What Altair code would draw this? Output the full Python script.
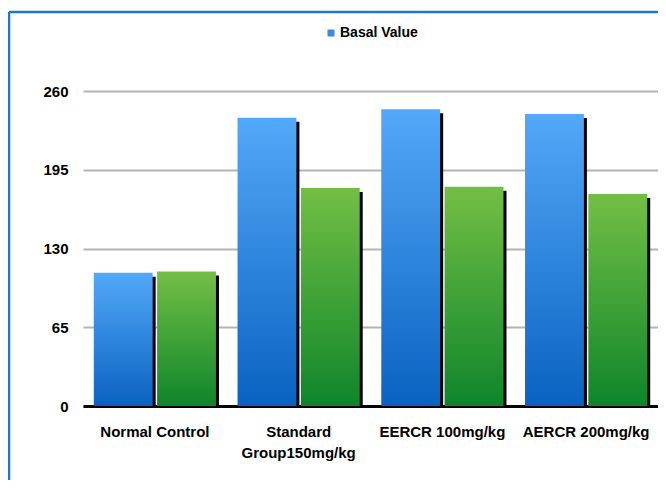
import altair as alt
import pandas as pd

categories = ["Normal Control", "Standard Group150mg/kg", "EERCR 100mg/kg", "AERCR 200mg/kg"]
series_names = ["Basal Value", "Series 2"]
basal_values = [110, 238, 245, 241]
second_values = [111, 180, 181, 175]
y_ticks = [0, 65, 130, 195, 260]
legend_label = ["Basal Value"]

rows = []
for c, v in zip(categories, basal_values):
    rows.append({"category": c, "series": series_names[0], "value": v})
for c, v in zip(categories, second_values):
    rows.append({"category": c, "series": series_names[1], "value": v})
df = pd.DataFrame(rows)

blue_grad = alt.LinearGradient(
    gradient="linear", x1=0, x2=0, y1=0, y2=1,
    stops=[alt.GradientStop(color="#52A9F9", offset=0),
           alt.GradientStop(color="#0A62C0", offset=1)])
green_grad = alt.LinearGradient(
    gradient="linear", x1=0, x2=0, y1=0, y2=1,
    stops=[alt.GradientStop(color="#73BF45", offset=0),
           alt.GradientStop(color="#0E852B", offset=1)])

W, H = 575, 315
PI, PO = 0.15, 0.075
band = W / (len(categories) - PI + 2 * PO) * (1 - PI)

x_enc = alt.X("category:N", sort=categories,
              scale=alt.Scale(paddingInner=PI, paddingOuter=PO),
              axis=alt.Axis(title=None, labelAngle=0, labelFont="Liberation Sans",
                            labelFontSize=15, labelFontWeight="bold", labelColor="black",
                            labelPadding=18, labelLineHeight=21, labelLimit=300,
                            labelOverlap=False, ticks=False, grid=False,
                            domainColor="black", domainWidth=3,
                            labelExpr="datum.label == 'Standard Group150mg/kg' ? ['Standard', 'Group150mg/kg'] : datum.label"))
y_enc = alt.Y("value:Q", scale=alt.Scale(domain=[0, 260], nice=False),
              axis=alt.Axis(title=None, values=y_ticks, labelFont="Liberation Sans",
                            labelFontSize=15, labelFontWeight="bold", labelColor="black",
                            labelPadding=15, ticks=False, domain=False,
                            gridColor="#B4B4B4", gridWidth=2))


def xo(shift):
    return alt.XOffset("series:N", sort=series_names,
                       scale=alt.Scale(domain=series_names, paddingInner=0.07, paddingOuter=0,
                                       range=[shift, band + shift]))


shadow = alt.Chart(df).mark_bar(color="black", yOffset=4, clip=True).encode(
    x=x_enc, xOffset=xo(3), y=y_enc)
bars_base = alt.Chart(df).encode(x=x_enc, xOffset=xo(0), y=y_enc)
blue = bars_base.transform_filter(alt.datum.series == series_names[0]).mark_bar(color=blue_grad)
green = bars_base.transform_filter(alt.datum.series == series_names[1]).mark_bar(color=green_grad)
bars = alt.layer(blue, green)

leg_df = pd.DataFrame({"label": legend_label})
leg_sq = alt.Chart(leg_df).mark_square(size=49, color="#3A8BE0", opacity=1).encode(
    x=alt.value(248), y=alt.value(-58))
leg_txt = alt.Chart(leg_df).mark_text(align="left", baseline="middle", font="Liberation Sans",
                                      fontSize=14, fontWeight="bold", color="black").encode(
    x=alt.value(257), y=alt.value(-58), text="label:N")

frame_top = alt.Chart(leg_df).mark_rule(color="#1F78C9", strokeWidth=2.5).encode(
    x=alt.value(-74), x2=alt.value(W), y=alt.value(-79))
frame_left = alt.Chart(leg_df).mark_rule(color="#1F78C9", strokeWidth=2.5).encode(
    x=alt.value(-74), y=alt.value(-79), y2=alt.value(H + 80))

chart = alt.layer(shadow, bars, leg_sq, leg_txt, frame_top, frame_left).resolve_scale(
    xOffset="independent"
).properties(
    width=W, height=H,
    autosize=alt.AutoSizeParams(type="none"),
    padding={"left": 75, "top": 83, "right": 0, "bottom": 74},
    background="white",
).configure_view(stroke=None)

chart.save("out.html", embed_options={"renderer": "svg", "actions": False})
